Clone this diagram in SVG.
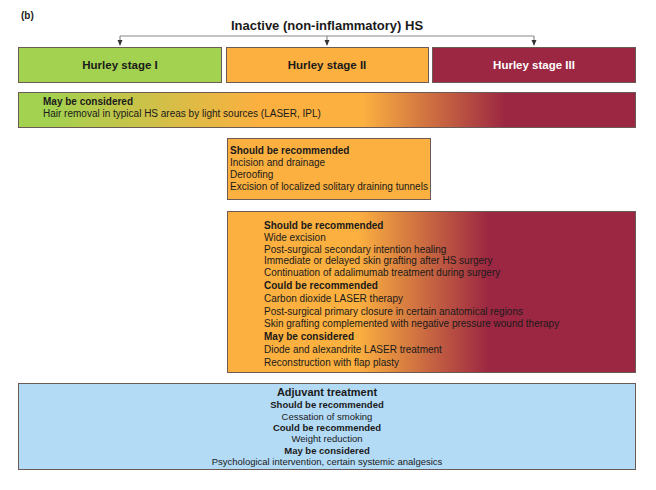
<svg xmlns="http://www.w3.org/2000/svg" width="656" height="490" viewBox="0 0 656 490">
<style>
text{font-family:"Liberation Sans",Arial,sans-serif;fill:#1a1a1a}
.b{font-weight:bold}
.t10{font-size:10px}
.t95{font-size:9.5px}
.st{font-size:11.5px;font-weight:bold;text-anchor:middle}
.c{text-anchor:middle}
.box{stroke:#6b5a55;stroke-width:1}
.conn{fill:none;stroke:#8a8a8a;stroke-width:1.2}
</style>
<defs>
<marker id="ah" viewBox="0 0 8 8" refX="7" refY="4" markerWidth="6" markerHeight="6" orient="auto" markerUnits="userSpaceOnUse">
<path d="M0,0.5 L8,4 L0,7.5 Z" fill="#333"/>
</marker>
<linearGradient id="g1" x1="18" y1="0" x2="635" y2="0" gradientUnits="userSpaceOnUse">
<stop offset="0.05" stop-color="#a3d150"/>
<stop offset="0.39" stop-color="#fbb040"/>
<stop offset="0.56" stop-color="#fbb040"/>
<stop offset="0.79" stop-color="#9c2742"/>
<stop offset="1" stop-color="#9c2742"/>
</linearGradient>
<linearGradient id="g2" x1="227" y1="0" x2="636" y2="0" gradientUnits="userSpaceOnUse">
<stop offset="0.32" stop-color="#fbb040"/>
<stop offset="0.64" stop-color="#9c2742"/>
<stop offset="1" stop-color="#9c2742"/>
</linearGradient>
</defs>
<rect width="656" height="490" fill="#ffffff"/>
<text x="21" y="19" class="b" style="font-size:10px">(b)</text>
<g id="title"><text x="327" y="30" class="b c" style="font-size:13px">Inactive (non-inflammatory) HS</text></g>
<g id="connectors">
<path class="conn" d="M120,36 H534"/>
<path class="conn" d="M120,36 V45" marker-end="url(#ah)"/>
<path class="conn" d="M327,36 V45" marker-end="url(#ah)"/>
<path class="conn" d="M534,36 V45" marker-end="url(#ah)"/>
</g>
<g id="stage1"><rect class="box" x="18.5" y="47.5" width="203" height="35" fill="#a3d150" stroke="#7a7a7a"/><text x="120" y="69" class="st">Hurley stage I</text></g>
<g id="stage2"><rect class="box" x="226.5" y="47.5" width="202" height="35" fill="#fbb040" stroke="#7a7a7a"/><text x="327" y="69" class="st">Hurley stage II</text></g>
<g id="stage3"><rect class="box" x="432.5" y="47.5" width="203" height="35" fill="#9c2742" stroke="#7a7a7a"/><text x="534" y="69" class="st" style="fill:#ffffff">Hurley stage III</text></g>
<g id="hair"><rect class="box" x="18.5" y="92.5" width="617" height="35" fill="url(#g1)"/>
<text x="43" y="105" class="t10 b">May be considered</text>
<text x="43" y="117" class="t10">Hair removal in typical HS areas by light sources (LASER, IPL)</text></g>
<g id="stage2rec"><rect class="box" x="227.5" y="138.5" width="203" height="61" fill="#fbb040" stroke="#7a5a3a"/>
<text x="230" y="154" class="t10 b">Should be recommended</text>
<text x="230" y="166" class="t10">Incision and drainage</text>
<text x="230" y="178" class="t10">Deroofing</text>
<text x="230" y="190" class="t10">Excision of localized solitary draining tunnels</text></g>
<g id="surgery"><rect class="box" x="227.5" y="211.5" width="408" height="161" fill="url(#g2)"/>
<text x="264" y="229" class="t10 b">Should be recommended</text>
<text x="264" y="241" class="t10">Wide excision</text>
<text x="264" y="253" class="t10">Post-surgical secondary intention healing</text>
<text x="264" y="264" class="t10">Immediate or delayed skin grafting after HS surgery</text>
<text x="264" y="276" class="t10">Continuation of adalimumab treatment during surgery</text>
<text x="264" y="289" class="t10 b">Could be recommended</text>
<text x="264" y="302" class="t10">Carbon dioxide LASER therapy</text>
<text x="264" y="315" class="t10">Post-surgical primary closure in certain anatomical regions</text>
<text x="264" y="327" class="t10">Skin grafting complemented with negative pressure wound therapy</text>
<text x="264" y="340" class="t10 b">May be considered</text>
<text x="264" y="353" class="t10">Diode and alexandrite LASER treatment</text>
<text x="264" y="366" class="t10">Reconstruction with flap plasty</text></g>
<g id="adjuvant"><rect class="box" x="18.5" y="383.5" width="617" height="86" fill="#b3dbf6" stroke="#6a7078"/>
<text x="327" y="396" class="c b" style="font-size:11px">Adjuvant treatment</text>
<text x="327" y="408" class="c b t95">Should be recommended</text>
<text x="327" y="420" class="c t95">Cessation of smoking</text>
<text x="327" y="431" class="c b t95">Could be recommended</text>
<text x="327" y="442" class="c t95">Weight reduction</text>
<text x="327" y="454" class="c b t95">May be considered</text>
<text x="327" y="465" class="c t95">Psychological intervention, certain systemic analgesics</text></g>
</svg>
